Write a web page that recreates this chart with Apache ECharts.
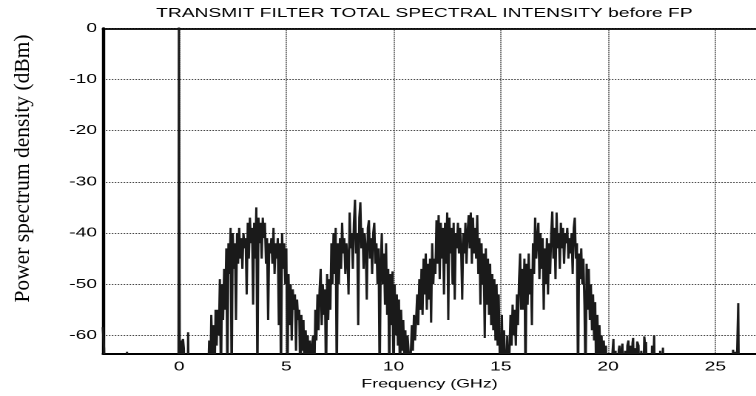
<!DOCTYPE html>
<html>
<head>
<meta charset="utf-8">
<script src="https://cdn.jsdelivr.net/npm/echarts@6.0.0/dist/echarts.min.js"></script>
<style>
html,body{margin:0;padding:0;background:#fff;overflow:hidden;width:756px;height:396px}
#chart{width:511px;height:396px;transform:scaleX(1.4795);transform-origin:0 0}
</style>
</head>
<body>
<div id="chart"></div>
<script>
// ---- data (frequency in GHz, power spectral density in dBm) ----
// -70 marks spectral nulls that fall below the plotted floor
const STEP_GHZ = 0.05;

// sparse content left of the first lobe (edge, carrier spike at 0 GHz, small spurs)
const lowFreq = [-3.56, -3.53, -3.50, -3.47, -2.45, -2.43, -2.41, -0.03, -0.01, 0.01, 0.03, 0.06, 0.10, 0.14, 0.18, 0.22, 0.26, 0.40, 0.42, 0.44, 1.35];
const lowDb   = [-58.4, -60.5, -62.5, -70, -70, -63.2, -70, -70, 5, 5, -62, -61, -70, -61.5, -60.7, -62.5, -70, -70, -59.4, -70, -70];

const lobe1Start = 1.40;
const lobe1 = [-61,-70,-56,-64,-58,-70,-55,-62,-55,-60,
  -49,-70,-50,-57,-47,-55,-43,-70,-42,-48,
  -39,-70,-40,-47,-42,-57,-40,-46,-39,-45,
  -41,-47,-40,-43,-41,-52,-38,-45,-37,-42,
  -39,-54,-38,-45,-35,-70,-37,-42,-38,-45,
  -37,-41,-38,-46,-41,-57,-42,-44,-41,-46,
  -39,-48,-42,-45,-41,-58,-42,-70,-40,-47,
  -42,-50,-43,-70,-48,-58,-50,-61,-51,-55,
  -52,-63,-53,-57,-55,-70,-56,-63,-57,-70,
  -59,-64,-60,-70,-61,-70,-62];

const lobe2Start = 6.25;
const lobe2 = [-60,-70,-55,-61,-52,-59,-51,-47,-58,-50,
  -56,-51,-70,-48,-57,-49,-55,-42,-50,-40,
  -48,-39,-70,-42,-50,-41,-47,-38,-44,-41,
  -48,-42,-45,-52,-36,-43,-40,-47,-38,-33.5,
  -44,-40,-58,-37,-34,-43,-39,-47,-40,-43,
  -53,-39,-37.5,-45,-41,-48,-40,-38,-46,-42,
  -50,-43,-70,-46,-40,-50,-44,-54,-42,-56,
  -47,-70,-48,-58,-47.5,-70,-50,-60,-52,-62,
  -53,-70,-55,-63,-57,-65,-59,-70,-60,-63];

const lobe3Start = 10.75;
const lobe3 = [-70,-64,-58,-63,-56,-61,-57,-52,-58,-49,
  -55,-47,-56,-45,-52,-44,-55,-46,-53,-45,
  -57.5,-42,-50,-45,-48,-37.5,-46,-36.5,-49,-38,
  -45,-39,-52,-38,-46,-36,-57,-37,-44,-39,
  -50,-38,-53,-40,-43,-38,-44,-39,-43,-53,
  -40,-44,-38,-46,-40,-36.5,-43,-36,-46,-37,
  -44,-39,-45,-36.5,-48,-41,-54,-42,-50,-44,
  -60.5,-43,-54,-45,-56,-46,-58,-48,-59,-49,
  -61,-50,-62,-52,-64,-70,-56,-70,-59,-65,
  -70,-60,-70];

const lobe4Start = 15.40;
const lobe4 = [-64,-56,-62,-54,-60,-55,-62,-52,-58,-49,
  -44,-55,-47,-55,-45,-70,-46,-54,-44,-52,
  -47,-58,-42,-48,-37,-45,-41,-38,-49,-40,
  -47,-41,-55,-43,-50,-41,-52,-42,-48,-40,
  -35.8,-45,-39,-49,-36,-43,-40,-47,-38,-43,
  -39,-46,-40,-42,-39,-45,-41,-44,-40,-48,
  -39,-37,-45,-42,-70,-44,-49,-43,-50,-45,
  -54,-70,-46,-55,-47,-57,-50,-59,-52,-61,
  -53.5,-70,-56,-64,-58,-65,-60,-70,-61,-65,
  -62,-70,-70,-70];

// sparse spurs above 20 GHz
const tailFreq = [20.10,20.25,20.28,20.35,20.40,20.50,20.53,20.57,20.64,20.67,20.71,20.80,20.85,20.90,20.95,21.00,21.04,21.08,21.14,21.17,21.21,21.27,21.30,21.36,21.42,21.46,21.55,21.60,21.64,21.69,21.73,21.77,21.81,22.02,22.05,22.08,22.15,22.18,22.40,22.43,22.47,22.53,22.56,22.60,25.80,25.83,25.87,25.93,25.98,26.03,26.07,26.10,26.90];
const tailDb   = [-70,-60.7,-70,-63,-70,-62.8,-62,-70,-62.5,-61.6,-70,-63,-70,-62,-61,-70,-62,-70,-61.5,-60.5,-70,-62.5,-70,-61.2,-62,-70,-63,-62.7,-70,-60.2,-62,-61.3,-70,-70,-62,-70,-60,-70,-70,-63,-70,-70,-62.4,-70,-70,-62.8,-70,-63.2,-70,-70,-53.7,-70,-70];

// axis ranges
const X_MIN = -3.55, X_MAX = 26.9;
const Y_MIN = -63.5, Y_MAX = 0;

const TITLE = 'TRANSMIT FILTER TOTAL SPECTRAL INTENSITY before FP';
const X_NAME = 'Frequency (GHz)';
const Y_NAME = 'Power spectrum density (dBm)';

// ---- build ----
function bins(start, values) {
  return values.map((v, i) => [Math.round((start + i * STEP_GHZ) * 100) / 100, v]);
}
function pairs(freqs, dbs) {
  return freqs.map((f, i) => [f, dbs[i]]);
}
const seriesData = [].concat(
  pairs(lowFreq, lowDb),
  bins(lobe1Start, lobe1),
  bins(lobe2Start, lobe2),
  bins(lobe3Start, lobe3),
  bins(lobe4Start, lobe4),
  pairs(tailFreq, tailDb)
);

const SANS = '"Liberation Sans", Arial, Helvetica, sans-serif';
const STRETCH = 756 / 511;
const chart = echarts.init(document.getElementById('chart'), null, {renderer: 'canvas', devicePixelRatio: 2});

const gridLine = {show: true, lineStyle: {color: '#444', width: 1, type: [1, 1]}};

chart.setOption({
  animation: false,
  backgroundColor: '#fff',
  title: {
    text: TITLE, left: 105.5, top: 7, padding: 0,
    textStyle: {fontFamily: SANS, fontSize: 13, fontWeight: 'normal', color: '#000'}
  },
  grid: {left: 69.6, right: 0, top: 28.3, bottom: 42.7, containLabel: false, outerBoundsMode: 'none'},
  xAxis: [{
    type: 'value', min: X_MIN, max: X_MAX, position: 'bottom',
    name: X_NAME, nameLocation: 'middle', nameGap: 21.5,
    nameTextStyle: {fontFamily: SANS, fontSize: 12, color: '#000'},
    axisLine: {show: true, onZero: false, lineStyle: {color: '#000', width: 2}},
    axisTick: {show: false},
    axisLabel: {fontFamily: SANS, fontSize: 13, color: '#000', margin: 7, showMinLabel: false, showMaxLabel: false},
    splitLine: gridLine
  }, {
    type: 'value', min: X_MIN, max: X_MAX, position: 'top',
    axisLine: {show: true, onZero: false, lineStyle: {color: '#000', width: 1.8}},
    axisTick: {show: false}, axisLabel: {show: false}, splitLine: {show: false}
  }],
  yAxis: {
    type: 'value', min: Y_MIN, max: Y_MAX,
    axisLine: {show: true, onZero: false, lineStyle: {color: '#000', width: 2.2}},
    axisTick: {show: false},
    axisLabel: {fontFamily: SANS, fontSize: 13, color: '#000', margin: 4, showMinLabel: false},
    splitLine: gridLine
  },
  graphic: [{
    type: 'text', x: 23 / STRETCH, y: 168.5, rotation: Math.PI / 2, scaleY: 1 / STRETCH,
    style: {text: Y_NAME, font: '21.5px "Liberation Serif", "Times New Roman", serif', fill: '#000', align: 'center', verticalAlign: 'middle'}
  }],
  series: [{
    type: 'line', xAxisIndex: 0, data: seriesData,
    showSymbol: false, symbol: 'none', clip: true, silent: true,
    lineStyle: {color: '#1a1a1a', width: 1.5}
  }]
});
</script>
</body>
</html>
